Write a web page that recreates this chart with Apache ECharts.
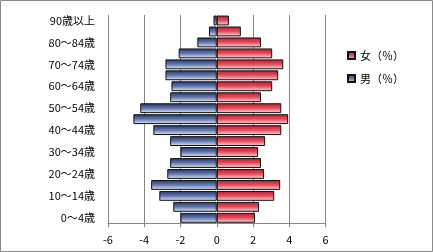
<!DOCTYPE html>
<html><head><meta charset="utf-8">
<script src="https://cdn.jsdelivr.net/npm/echarts@6/dist/echarts.min.js"></script>
<style>html,body{margin:0;padding:0;background:#fff}#c{width:433px;height:252px}</style>
</head><body><div id="c"></div>
<script>
const categories = ["0～4歳","5～9歳","10～14歳","15～19歳","20～24歳","25～29歳","30～34歳","35～39歳","40～44歳","45～49歳","50～54歳","55～59歳","60～64歳","65～69歳","70～74歳","75～79歳","80～84歳","85～89歳","90歳以上"];
const maleValues = [-2.0,-2.4,-3.17,-3.62,-2.73,-2.57,-2.0,-2.57,-3.5,-4.6,-4.22,-2.57,-2.5,-2.83,-2.83,-2.1,-1.07,-0.43,-0.18];
const femaleValues = [2.11,2.33,3.17,3.5,2.61,2.44,2.28,2.67,3.56,3.94,3.56,2.44,3.06,3.39,3.67,3.06,2.44,1.33,0.67];
const xTicks = [-6,-4,-2,0,2,4,6];
const femaleName = "女（％）";
const maleName = "男（％）";

const chart = echarts.init(document.getElementById('c'), null, {renderer:'canvas'});
const font = '"Noto Sans CJK JP","Noto Sans",sans-serif';
function grad(c0,c1,c2){return new echarts.graphic.LinearGradient(0,0,0,1,[{offset:0,color:c0},{offset:0.5,color:c1},{offset:1,color:c2}]);}
chart.setOption({
  animation:false,
  backgroundColor:'#fff',
  textStyle:{fontFamily:font},
  graphic:[{type:'rect',shape:{x:0.5,y:0.5,width:432,height:251},style:{fill:null,stroke:'#8a8a8a',lineWidth:1},silent:true}],
  legend:{
    orient:'vertical', left:342, top:45, itemWidth:7, itemHeight:7, itemGap:12, padding:5,
    icon:'rect',
    data:[femaleName, maleName],
    textStyle:{fontSize:11, color:'#000', fontFamily:font}
  },
  grid:{left:108, right:107.5, top:15, bottom:28.7, outerBoundsMode:'none', containLabel:false},
  xAxis:{
    type:'value', min:xTicks[0], max:xTicks[xTicks.length-1], interval:2,
    axisLine:{show:true, lineStyle:{color:'#868686'}},
    axisTick:{show:true, length:4, lineStyle:{color:'#868686'}},
    axisLabel:{fontSize:11, color:'#000', margin:11, fontFamily:font},
    splitLine:{show:true, lineStyle:{color:'#868686', width:1}}
  },
  yAxis:{
    type:'category', data:categories,
    axisLine:{show:false}, axisTick:{show:false},
    axisLabel:{interval:1, fontSize:11, color:'#000', margin:13, fontFamily:font}
  },
  series:[
    {name:femaleName, type:'bar', data:femaleValues, barWidth:'90%', barGap:'-100%',
     itemStyle:{color:grad('#c8142a','#e0505e','#f6e0e3'), borderColor:'#111', borderWidth:1}},
    {name:maleName, type:'bar', data:maleValues, barWidth:'90%', barGap:'-100%',
     itemStyle:{color:grad('#1f3470','#6478aa','#e8ecf5'), borderColor:'#111', borderWidth:1}}
  ]
});
</script></body></html>
